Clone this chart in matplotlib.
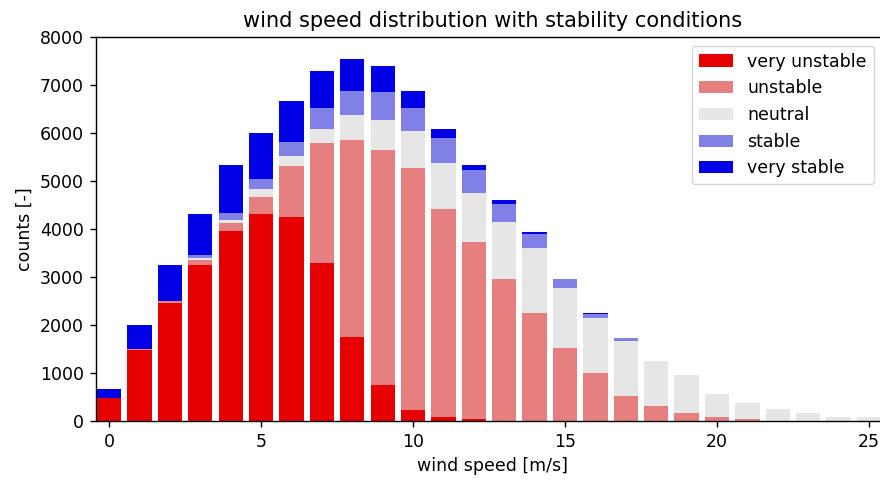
import matplotlib
matplotlib.use("Agg")
import matplotlib.pyplot as plt
import numpy as np

wind_speed = list(range(26))
very_unstable = [486, 1480, 2450, 3243, 3950, 4313, 4243, 3285, 1743, 743, 229, 76, 42, 8,
                 0, 0, 0, 0, 0, 0, 0, 0, 0, 0, 0, 0]
unstable = [0, 20, 40, 111, 180, 361, 1063, 2500, 4111, 4896, 5042, 4347, 3681, 2940,
            2257, 1514, 993, 521, 306, 160, 78, 47, 10, 0, 0, 0]
neutral = [0, 0, 10, 42, 56, 153, 215, 292, 514, 625, 771, 944, 1028, 1208,
           1354, 1250, 1146, 1146, 951, 798, 484, 328, 247, 160, 76, 76]
stable = [0, 5, 10, 55, 153, 215, 299, 437, 514, 583, 472, 521, 479, 375,
          285, 188, 83, 69, 0, 0, 0, 0, 0, 0, 0, 0]
very_stable = [181, 488, 733, 862, 1000, 958, 847, 778, 667, 556, 368, 188, 111, 69,
               48, 0, 35, 0, 0, 0, 0, 0, 0, 0, 0, 0]

labels = ["very unstable", "unstable", "neutral", "stable", "very stable"]
series = [very_unstable, unstable, neutral, stable, very_stable]
colors = [(0.9, 0, 0), (0.9, 0.5, 0.5), (0.9, 0.9, 0.9), (0.5, 0.5, 0.9), (0, 0, 0.9)]

s = 1.25
plt.rcParams.update({
    "font.size": 10 * s,
    "axes.linewidth": 0.8 * s,
    "xtick.major.size": 3.5 * s,
    "ytick.major.size": 3.5 * s,
    "xtick.major.width": 0.8 * s,
    "ytick.major.width": 0.8 * s,
    "xtick.major.pad": 3.5 * s,
    "ytick.major.pad": 3.5 * s,
})

fig = plt.figure(figsize=(8.8, 4.82), dpi=100)
ax = fig.add_axes([96/880, 61/482, 1 - 96/880 + 0.01, 384/482])

bottom = np.zeros(len(wind_speed))
for vals, lab, col in zip(series, labels, colors):
    ax.bar(wind_speed, vals, width=0.8, bottom=bottom, color=col, label=lab)
    bottom += np.array(vals)

ax.set_xlim(-0.43, 25.65)
ax.set_ylim(0, 8000)
ax.set_xticks([0, 5, 10, 15, 20, 25])
ax.set_xlabel("wind speed [m/s]")
ax.set_ylabel("counts [-]")
ax.set_title("wind speed distribution with stability conditions", fontsize=15, pad=6 * s)
ax.legend(loc="upper right", bbox_to_anchor=(0.992, 1.0))

fig.savefig("out.png", dpi=100)
